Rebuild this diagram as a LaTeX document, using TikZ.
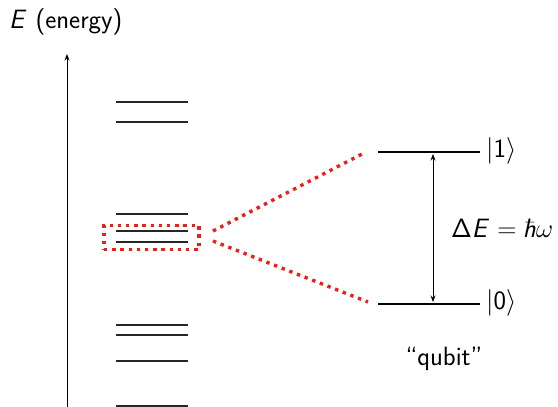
\RequirePackage{fix-cm}
\documentclass[tikz,border=0pt]{standalone}
\usetikzlibrary{arrows.meta}
\DeclareMathAlphabet{\mathsfit}{OT1}{cmss}{m}{sl}
\definecolor{dotred}{RGB}{232,32,24}
\begin{document}
\begin{tikzpicture}[x=1pt,y=-1pt,
  level/.style={line width=1.2pt,draw=black!85},
  qlevel/.style={line width=2.8pt},
  reddot/.style={draw=dotred,line width=3.4pt,dash pattern=on 3.4pt off 4.8pt},
  lab/.style={font=\fontsize{26.5}{32}\selectfont\sffamily,inner sep=0pt}]
\useasboundingbox (0,0) rectangle (558,407);
% axis
\coordinate (ab) at (67,410);
\coordinate (at) at (67,54);
\draw[line width=1pt,-{Stealth[length=6.5pt,width=5pt]}] (ab) -- (at);
\node[lab,anchor=base west] (elab) at (9,28) {$\mathsfit{E}$ (energy)};
% levels
\foreach \y/\n in {102/a,122/b,214/c,231/d,242/e,325/f,335/g,361/h,406/i}{
  \coordinate (l\n L) at (116,\y);
  \coordinate (l\n R) at (188,\y);
  \draw[level] (l\n L) -- (l\n R);
}
% dotted box
\node[reddot,minimum width=95pt,minimum height=24pt,inner sep=0pt] (box) at (151.5,237.3) {};
% qubit levels
\coordinate (q1L) at (378,152);
\coordinate (q1R) at (480,152);
\coordinate (q0L) at (378,304);
\coordinate (q0R) at (480,304);
\draw[qlevel] (q1L) -- (q1R);
\draw[qlevel] (q0L) -- (q0R);
\node[lab,anchor=west] (k1) at (486,151) {$|\mathsf{1}\rangle$};
\node[lab,anchor=west] (k0) at (486,303) {$|\mathsf{0}\rangle$};
\coordinate (aT) at (433,154);
\coordinate (aB) at (433,302);
\draw[line width=0.9pt,{Stealth[length=6.5pt,width=5pt]}-{Stealth[length=6.5pt,width=5pt]}] (aT) -- (aB);
\node[lab,anchor=base west] (de) at (451,237) {$\mathsf{\Delta}\mathsfit{E} = \mathsfit{\hbar}\omega$};
\node[lab,anchor=base] (qb) at (444,365) {``qubit''};
% red dotted connectors
\coordinate (s1) at (213,231);
\coordinate (s0) at (213,241);
\coordinate (c1) at (366,152);
\coordinate (c0) at (368,302);
\draw[reddot] (s1) -- (c1);
\draw[reddot] (s0) -- (c0);
\end{tikzpicture}
\end{document}
